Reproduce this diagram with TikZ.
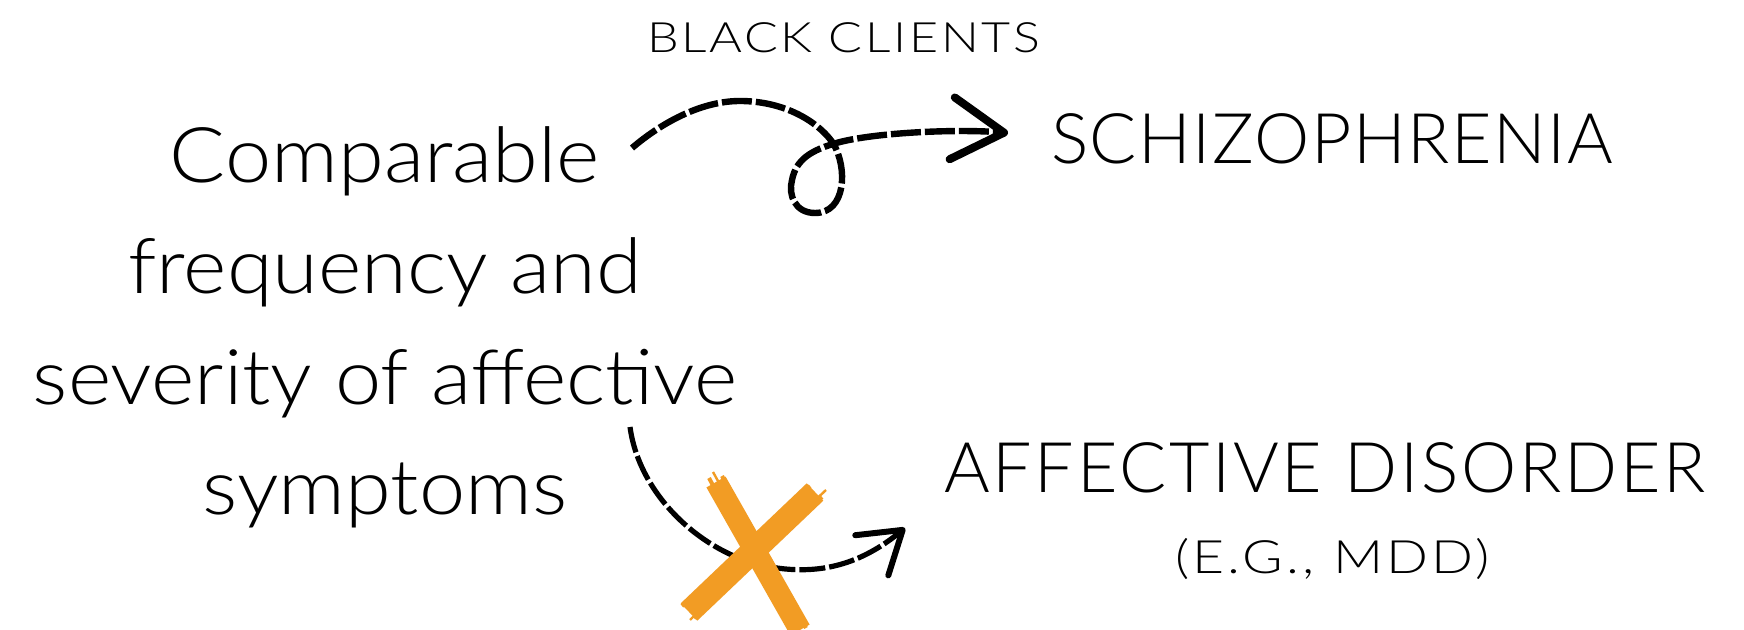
\documentclass[tikz,border=0pt]{standalone}
\usepackage{fontspec}
\IfFontExistsTF{Lato Light}{\setmainfont{Lato Light}}{\setmainfont{Lato}}
\usetikzlibrary{arrows.meta}
\definecolor{brush}{HTML}{F29C24}
\tikzset{
  px/.style={x=0.5pt,y=-0.5pt},
  lbl/.style={inner sep=0pt,outer sep=0pt,text=black},
  dashtop/.style={line width=3.2pt,line cap=butt,dash pattern=on 15pt off 2pt},
  dashbot/.style={line width=2.6pt,line cap=butt,dash pattern=on 13pt off 2pt},
  headtop/.style={-{Straight Barb[length=26pt,width=31pt,line width=4pt,round]}},
  headbot/.style={-{Straight Barb[length=20pt,width=26pt,line width=3pt,round]}},
  brushline/.style={draw=brush,line cap=butt},
}
\begin{document}
\begin{tikzpicture}[px]
\useasboundingbox[fill=white] (0,0) rectangle (1744,630);

% texts
\node[lbl,anchor=base] (src) at (385,183)
  {\fontsize{38.4pt}{55.3pt}\selectfont\addfontfeatures{FakeStretch=1.08}\begin{tabular}[t]{@{}c@{}}Comparable\\frequency and\\severity of affective\\symptoms\end{tabular}};
\node[lbl,anchor=base west] (black) at (647,53)
  {\fontsize{20.9pt}{25pt}\selectfont\addfontfeatures{FakeStretch=1.2,LetterSpace=6.4}BLACK CLIENTS};
\node[lbl,anchor=base west] (schiz) at (1051,164)
  {\fontsize{34.9pt}{40pt}\selectfont\addfontfeatures{LetterSpace=2.2}SCHIZOPHRENIA};
\node[lbl,anchor=base west] (aff) at (944,492)
  {\fontsize{34.9pt}{40pt}\selectfont\addfontfeatures{LetterSpace=4}AFFECTIVE DISORDER};
\node[lbl,anchor=base west] (mdd) at (1175,573)
  {\fontsize{23pt}{28pt}\selectfont\addfontfeatures{FakeStretch=1.2,LetterSpace=7.2}(E.G., MDD)};

% connector ends
\coordinate (topstart) at (632,148);
\coordinate (topend) at (1008,133);
\coordinate (botstart) at (630,427);
\coordinate (botend) at (905,528);

% top arrow with loop
\draw[dashtop,headtop] (topstart)
  .. controls (660,124) and (700,101) .. (740,101)
  .. controls (780,101) and (815,118) .. (833,143)
  .. controls (848,168) and (846,213) .. (815,213)
  .. controls (795,213) and (788,195) .. (792,180)
  .. controls (796,160) and (810,150) .. (840,142)
  .. controls (880,132) and (960,129) .. (topend);

% bottom arrow
\draw[dashbot,headbot] (botstart)
  .. controls (640,500) and (710,560) .. (777,568)
  .. controls (820,574) and (860,565) .. (botend);

% orange brush X
\draw[brushline,line width=11pt] (716,482) -- (800,630);
\draw[brushline,line width=2pt] (709,478) -- (790,628);
\draw[brushline,line width=2pt] (722,476) -- (806,628);
\draw[brushline,line width=1.2pt] (713,472) -- (724,492);
\draw[brushline,line width=12pt] (815,492) -- (689,612);
\draw[brushline,line width=2pt] (822,497) -- (694,618);
\draw[brushline,line width=2pt] (810,486) -- (682,606);
\draw[brushline,line width=1.2pt] (826,490) -- (810,505);
\draw[brushline,line width=1.2pt] (690,620) -- (702,608);
\end{tikzpicture}
\end{document}
